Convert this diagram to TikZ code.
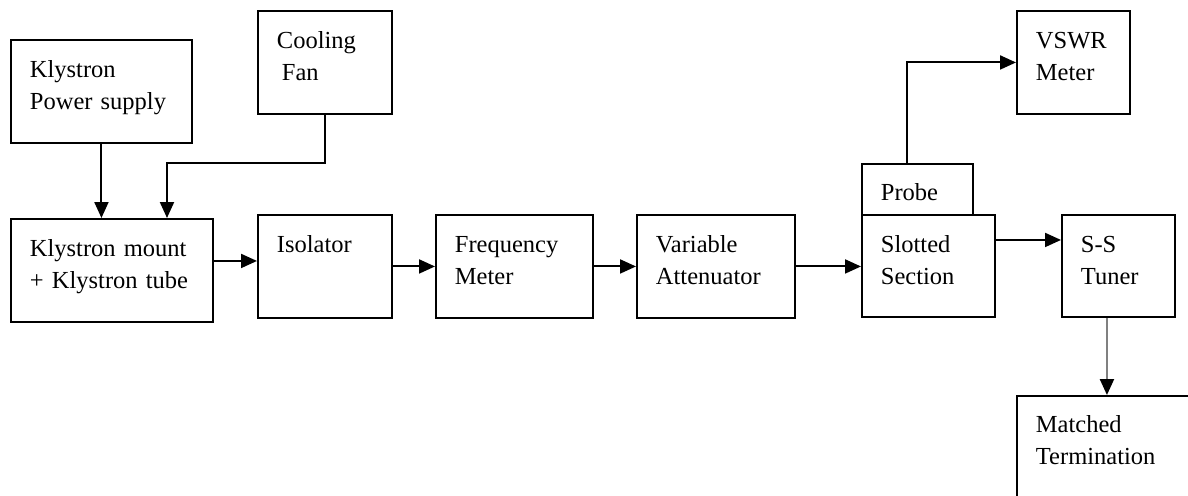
\documentclass[tikz,border=0pt]{standalone}
\usepackage{fontspec}
\setmainfont{Liberation Serif}
\usetikzlibrary{arrows.meta}

\begin{document}
\begin{tikzpicture}[
    x=0.5pt, y=-0.5pt,
    every node/.style={font=\fontsize{12.25}{16}\selectfont},
    blk/.style={draw, line width=0.95pt, anchor=north west, align=left, inner xsep=9.5pt, inner ysep=0pt, text height=19pt, text depth=32.5pt},
    flow/.style={-{Triangle[length=8pt, width=7pt]}, line width=1pt},
    lead/.style={-{Triangle[length=8pt, width=7pt, color=black]}, draw=gray, line width=1.1pt},
]
\useasboundingbox (0,0) rectangle (1188,495);
% blocks
\node[blk, text width=71.5pt] (kps) at (10,39) {Klystron\\Power supply};
\node[blk, text width=48pt] (fan) at (257,10) {Cooling\\\hspace*{2.5pt}Fan};
\node[blk, text width=82pt] (mount) at (10,218) {Klystron mount\\+ Klystron tube};
\node[blk, text width=48pt] (iso) at (257,214) {Isolator};
\node[blk, text width=59.5pt] (freq) at (435,214) {Frequency\\Meter};
\node[blk, text width=60pt] (atten) at (636,214) {Variable\\Attenuator};
\node[blk, text width=47.5pt, text depth=32pt] (slot) at (861,214) {Slotted\\Section};
\node[blk, text width=36.5pt, text height=18.5pt, text depth=7pt] (probe) at (861,163) {Probe};
\node[blk, text width=37.5pt] (vswr) at (1016,10) {VSWR\\Meter};
\node[blk, text width=37.5pt, text depth=32pt] (tuner) at (1061,214) {S-S\\Tuner};
\node[blk, text width=73pt, text height=18.5pt, text depth=44pt] (match) at (1016,395) {Matched\\Termination};
% connectors
\coordinate (fanbend) at (167,163);
\coordinate (feed) at ([yshift=4.75pt]mount.east);
\coordinate (tap) at ([yshift=13pt]slot.east);
\coordinate (drop) at ([xshift=-5.75pt]tuner.south);
\draw[flow] (kps.south) -- (kps.south |- mount.north);
\draw[flow] (fan.south) |- (fanbend) -- (fanbend |- mount.north);
\draw[flow] (feed) -- (feed -| iso.west);
\draw[flow] (iso.east) -- (freq.west);
\draw[flow] (freq.east) -- (atten.west);
\draw[flow] (atten.east) -- (atten.east -| slot.west);
\draw[flow] (tap) -- (tap -| tuner.west);
\draw[flow] ([xshift=-5.25pt]probe.north) |- (vswr.west);
\draw[lead] (drop) -- (drop |- match.north);
\end{tikzpicture}
\end{document}
